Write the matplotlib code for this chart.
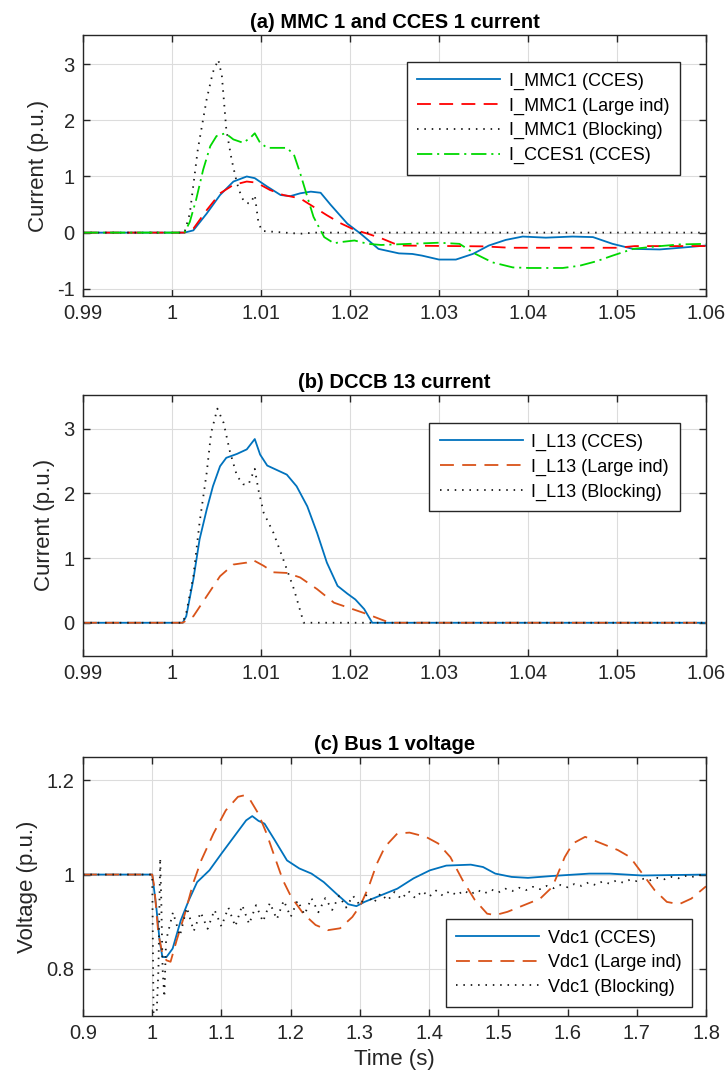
import matplotlib
matplotlib.use("Agg")
import matplotlib.pyplot as plt

plt.rcParams['font.family'] = ['Liberation Sans', 'DejaVu Sans']
plt.rcParams['lines.scale_dashes'] = False
plt.rcParams['axes.unicode_minus'] = False

# ---------------- data: panel (a) ----------------
t_mmc_cces = [0.99, 1.0014, 1.0024, 1.0039, 1.0054, 1.0069, 1.0084, 1.0093, 1.0107, 1.0122,
              1.0133, 1.0144, 1.0156, 1.0167, 1.0178, 1.0197, 1.0212, 1.0232, 1.0255, 1.027,
              1.0281, 1.030, 1.0319, 1.0338, 1.0356, 1.0375, 1.0394, 1.042, 1.045, 1.0473,
              1.0495, 1.0518, 1.0548, 1.0571, 1.06]
i_mmc_cces = [0, 0, 0.04, 0.34, 0.67, 0.91, 1.0, 0.97, 0.82, 0.67,
              0.65, 0.70, 0.73, 0.71, 0.50, 0.16, -0.02, -0.29, -0.37, -0.38,
              -0.41, -0.48, -0.48, -0.38, -0.23, -0.13, -0.07, -0.09, -0.07, -0.08,
              -0.20, -0.29, -0.30, -0.27, -0.23]

t_mmc_large = [0.99, 1.0014, 1.0024, 1.0039, 1.0054, 1.0069, 1.0084, 1.0095, 1.011, 1.0125,
               1.0144, 1.0159, 1.0174, 1.0189, 1.0205, 1.022, 1.0235, 1.0255, 1.035, 1.038,
               1.05, 1.052, 1.06]
i_mmc_large = [0, 0, 0.07, 0.4, 0.7, 0.85, 0.91, 0.89, 0.76, 0.67,
               0.61, 0.46, 0.31, 0.17, 0.05, -0.02, -0.1, -0.23, -0.245, -0.27,
               -0.27, -0.24, -0.24]

t_mmc_block = [0.99, 1.0014, 1.002, 1.0029, 1.0039, 1.0046, 1.0052, 1.0056, 1.0061, 1.0067,
               1.0073, 1.0078, 1.0082, 1.0088, 1.0093, 1.0097, 1.0101, 1.0144, 1.016, 1.06]
i_mmc_block = [0, 0, 0.34, 1.48, 2.38, 2.86, 3.08, 2.8, 1.84, 1.3,
               0.88, 0.64, 0.53, 0.52, 0.67, 0.19, 0.03, -0.02, 0.0, 0.0]

t_cces1 = [0.99, 1.0014, 1.002, 1.0027, 1.0035, 1.0043, 1.005, 1.006, 1.0069, 1.008,
           1.0088, 1.0093, 1.0099, 1.0107, 1.0118, 1.0129, 1.0137, 1.0144, 1.0152, 1.0159,
           1.0171, 1.0182, 1.0189, 1.0205, 1.022, 1.0235, 1.0251, 1.03, 1.0323, 1.0341,
           1.036, 1.0383, 1.0402, 1.0439, 1.0458, 1.0477, 1.0495, 1.0518, 1.0541, 1.0571, 1.06]
i_cces1 = [0, 0, 0.19, 0.58, 1.12, 1.54, 1.72, 1.77, 1.66, 1.6,
           1.69, 1.77, 1.6, 1.51, 1.51, 1.51, 1.39, 1.06, 0.64, 0.28,
           -0.08, -0.19, -0.17, -0.14, -0.2, -0.22, -0.21, -0.18, -0.2, -0.38,
           -0.53, -0.62, -0.63, -0.63, -0.59, -0.51, -0.41, -0.29, -0.25, -0.21, -0.2]

# ---------------- data: panel (b) ----------------
t_l13_cces = [0.99, 1.0012, 1.0016, 1.0024, 1.0031, 1.0039, 1.0046, 1.0054, 1.0061, 1.0073,
              1.0084, 1.0093, 1.0099, 1.0107, 1.0118, 1.0129, 1.014, 1.0152, 1.0163, 1.0174,
              1.0186, 1.0197, 1.0206, 1.0216, 1.0225, 1.06]
i_l13_cces = [0, 0, 0.1, 0.67, 1.29, 1.75, 2.11, 2.42, 2.55, 2.61,
              2.68, 2.84, 2.6, 2.43, 2.36, 2.29, 2.11, 1.8, 1.39, 0.93,
              0.57, 0.45, 0.36, 0.21, 0, 0]

t_l13_large = [0.99, 1.0012, 1.0024, 1.0039, 1.0054, 1.0069, 1.0084, 1.0091, 1.0103, 1.0114,
               1.0129, 1.0144, 1.0163, 1.0182, 1.0201, 1.022, 1.0235, 1.0245, 1.06]
i_l13_large = [0, 0, 0.1, 0.41, 0.72, 0.9, 0.93, 0.97, 0.88, 0.78,
               0.77, 0.7, 0.52, 0.31, 0.22, 0.13, 0.05, 0, 0]

t_l13_block = [0.99, 1.0012, 1.0016, 1.0024, 1.0031, 1.0039, 1.0044, 1.0051, 1.0058, 1.0065,
               1.0073, 1.008, 1.0086, 1.0093, 1.0097, 1.0103, 1.0114, 1.0125, 1.0137, 1.0148, 1.06]
i_l13_block = [0, 0, 0.15, 0.72, 1.55, 2.32, 2.94, 3.31, 3.09, 2.65,
               2.27, 2.14, 2.14, 2.38, 2.06, 1.7, 1.39, 0.98, 0.52, 0.0, 0]

# ---------------- data: panel (c) ----------------
t_vdc_cces = [0.9, 1.0, 1.0059, 1.0106, 1.0147, 1.0206, 1.0295, 1.0413, 1.053, 1.0649,
              1.0826, 1.1003, 1.118, 1.1357, 1.1445, 1.1534, 1.1622, 1.177, 1.1947, 1.2124,
              1.2301, 1.2478, 1.2655, 1.2832, 1.295, 1.3068, 1.3304, 1.354, 1.3776, 1.4012,
              1.4248, 1.4602, 1.4779, 1.4956, 1.5192, 1.5428, 1.5782, 1.6313, 1.661, 1.708,
              1.754, 1.8]
v_vdc_cces = [1.0, 1.0, 0.931, 0.861, 0.825, 0.825, 0.843, 0.903, 0.946, 0.984,
              1.009, 1.045, 1.08, 1.115, 1.124, 1.114, 1.108, 1.073, 1.03, 1.013,
              1.002, 0.984, 0.96, 0.937, 0.933, 0.942, 0.956, 0.970, 0.992, 1.009,
              1.019, 1.021, 1.016, 1.002, 0.995, 0.993, 0.997, 1.002, 1.002, 0.998,
              0.999, 1.0]

t_vdc_large = [0.9, 1.0, 1.003, 1.0088, 1.0147, 1.0206, 1.0265, 1.0354, 1.0472, 1.059,
               1.0708, 1.0885, 1.1062, 1.1239, 1.1327, 1.1416, 1.1534, 1.1652, 1.177, 1.1888,
               1.2006, 1.2183, 1.236, 1.2537, 1.2714, 1.2891, 1.3009, 1.3127, 1.3245, 1.3363,
               1.354, 1.3717, 1.3953, 1.413, 1.4307, 1.4484, 1.4661, 1.4838, 1.4956, 1.5133,
               1.5369, 1.5605, 1.5782, 1.5959, 1.6077, 1.6254, 1.649, 1.6726, 1.6903, 1.708,
               1.7257, 1.7434, 1.761, 1.7788, 1.8]
v_vdc_large = [1.0, 1.0, 0.974, 0.875, 0.832, 0.818, 0.815, 0.861, 0.917, 0.981,
               1.03, 1.087, 1.136, 1.165, 1.168, 1.158, 1.129, 1.087, 1.037, 0.988,
               0.953, 0.917, 0.893, 0.882, 0.886, 0.91, 0.935, 0.974, 1.023, 1.059,
               1.087, 1.089, 1.08, 1.066, 1.037, 0.988, 0.946, 0.917, 0.914, 0.921,
               0.935, 0.949, 0.974, 1.037, 1.066, 1.08, 1.066, 1.052, 1.037, 1.002,
               0.967, 0.942, 0.937, 0.949, 0.975]

t_vdc_block = [0.9, 1.0, 1.002, 1.006, 1.009, 1.0115, 1.013, 1.015, 1.0175, 1.02,
               1.03, 1.04, 1.05, 1.06, 1.07, 1.08, 1.09, 1.10, 1.11, 1.12,
               1.13, 1.14, 1.15, 1.16, 1.17, 1.18, 1.19, 1.20, 1.21, 1.22,
               1.23, 1.24, 1.25, 1.26, 1.27, 1.28, 1.29, 1.30, 1.31, 1.32,
               1.33, 1.34, 1.35, 1.36, 1.37, 1.38, 1.39, 1.40, 1.41, 1.42,
               1.43, 1.44, 1.45, 1.46, 1.47, 1.48, 1.49, 1.50, 1.51, 1.52,
               1.53, 1.54, 1.55, 1.56, 1.57, 1.58, 1.59, 1.60, 1.61, 1.62,
               1.63, 1.64, 1.65, 1.66, 1.67, 1.68, 1.69, 1.70, 1.71, 1.72,
               1.73, 1.74, 1.75, 1.76, 1.77, 1.78, 1.79, 1.80]
v_vdc_block = [1.0, 1.0, 0.69, 0.69, 0.80, 1.035, 0.95, 0.80, 0.74, 0.86,
               0.92, 0.87, 0.93, 0.88, 0.92, 0.885, 0.925, 0.89, 0.93, 0.89,
               0.935, 0.895, 0.935, 0.90, 0.94, 0.905, 0.945, 0.91, 0.945, 0.915,
               0.95, 0.92, 0.95, 0.925, 0.955, 0.93, 0.955, 0.935, 0.958, 0.94,
               0.96, 0.945, 0.963, 0.948, 0.965, 0.95, 0.965, 0.953, 0.966, 0.955,
               0.965, 0.956, 0.966, 0.958, 0.967, 0.96, 0.968, 0.962, 0.97, 0.965,
               0.972, 0.967, 0.974, 0.969, 0.976, 0.971, 0.978, 0.973, 0.98, 0.976,
               0.983, 0.978, 0.985, 0.981, 0.987, 0.983, 0.989, 0.986, 0.991, 0.988,
               0.993, 0.99, 0.995, 0.992, 0.997, 0.995, 0.999, 0.998]

# ---------------- ticks ----------------
xticks_ab = [0.99, 1.00, 1.01, 1.02, 1.03, 1.04, 1.05, 1.06]
xticklabels_ab = ['0.99', '1', '1.01', '1.02', '1.03', '1.04', '1.05', '1.06']
xticks_c = [0.9, 1.0, 1.1, 1.2, 1.3, 1.4, 1.5, 1.6, 1.7, 1.8]
xticklabels_c = ['0.9', '1', '1.1', '1.2', '1.3', '1.4', '1.5', '1.6', '1.7', '1.8']
yticks_a = [-1, 0, 1, 2, 3]
yticks_b = [0, 1, 2, 3]
yticks_c = [0.8, 1.0, 1.2]
yticklabels_c = ['0.8', '1', '1.2']

# ---------------- styles ----------------
BLUE = '#0072BD'
ORANGE = '#D95319'
RED = '#FF0000'
GREEN = '#00D800'
BLACK = '#1a1a1a'
AX = '#262626'
LW = 1.3
DASH = (0, (10, 6))
DOT = (0, (1.1, 4.2))
DASHDOT = (0, (11, 3.5, 1.5, 3.5))

TICK_FS = 14.5
LABEL_FS = 16
TITLE_FS = 14.5
LEG_FS = 13

fig = plt.figure(figsize=(7.28, 10.88), dpi=100)

def style_axes(ax):
    for s in ax.spines.values():
        s.set_color(AX)
        s.set_linewidth(1.0)
    ax.tick_params(direction='in', length=5, width=1.0, top=True, right=True,
                   labelsize=TICK_FS, colors=AX, pad=6)
    ax.grid(True, color='#dcdcdc', linewidth=0.8)
    ax.set_axisbelow(True)

def make_legend(ax, loc, anchor):
    leg = ax.legend(loc=loc, bbox_to_anchor=anchor, borderaxespad=0, fontsize=LEG_FS,
                    handlelength=4.6, handletextpad=0.45, labelspacing=0.42,
                    borderpad=0.6, fancybox=False, framealpha=1, edgecolor=AX)
    leg.get_frame().set_linewidth(1.0)
    return leg

# ---- panel (a)
ax1 = fig.add_axes([0.1140, 0.7279, 0.8558, 0.2399])
style_axes(ax1)
ax1.plot(t_mmc_cces, i_mmc_cces, color=BLUE, lw=LW, label='I_MMC1 (CCES)')
ax1.plot(t_mmc_large, i_mmc_large, color=RED, lw=LW, linestyle=DASH, label='I_MMC1 (Large ind)')
ax1.plot(t_mmc_block, i_mmc_block, color=BLACK, lw=LW, linestyle=DOT, label='I_MMC1 (Blocking)')
ax1.plot(t_cces1, i_cces1, color=GREEN, lw=LW, linestyle=DASHDOT, label='I_CCES1 (CCES)')
ax1.set_xlim(0.99, 1.06)
ax1.set_ylim(-1.13, 3.52)
ax1.set_xticks(xticks_ab)
ax1.set_xticklabels(xticklabels_ab)
ax1.set_yticks(yticks_a)
ax1.set_ylabel('Current (p.u.)', fontsize=LABEL_FS, color=AX, labelpad=6)
ax1.set_title('(a) MMC 1 and CCES 1 current', fontsize=TITLE_FS, fontweight='bold', pad=5)
make_legend(ax1, 'upper right', (0.958, 0.897))

# ---- panel (b)
ax2 = fig.add_axes([0.1140, 0.3973, 0.8558, 0.2396])
style_axes(ax2)
ax2.plot(t_l13_cces, i_l13_cces, color=BLUE, lw=LW, label='I_L13 (CCES)')
ax2.plot(t_l13_large, i_l13_large, color=ORANGE, lw=LW, linestyle=DASH, label='I_L13 (Large ind)')
ax2.plot(t_l13_block, i_l13_block, color=BLACK, lw=LW, linestyle=DOT, label='I_L13 (Blocking)')
ax2.set_xlim(0.99, 1.06)
ax2.set_ylim(-0.51, 3.52)
ax2.set_xticks(xticks_ab)
ax2.set_xticklabels(xticklabels_ab)
ax2.set_yticks(yticks_b)
ax2.set_ylabel('Current (p.u.)', fontsize=LABEL_FS, color=AX, labelpad=6)
ax2.set_title('(b) DCCB 13 current', fontsize=TITLE_FS, fontweight='bold', pad=5)
make_legend(ax2, 'upper right', (0.958, 0.893))

# ---- panel (c)
ax3 = fig.add_axes([0.1140, 0.0662, 0.8558, 0.2383])
style_axes(ax3)
ax3.plot(t_vdc_cces, v_vdc_cces, color=BLUE, lw=LW, label='Vdc1 (CCES)')
ax3.plot(t_vdc_large, v_vdc_large, color=ORANGE, lw=LW, linestyle=DASH, label='Vdc1 (Large ind)')
ax3.plot(t_vdc_block, v_vdc_block, color=BLACK, lw=LW, linestyle=DOT, label='Vdc1 (Blocking)')
ax3.set_xlim(0.9, 1.8)
ax3.set_ylim(0.70, 1.25)
ax3.set_xticks(xticks_c)
ax3.set_xticklabels(xticklabels_c)
ax3.set_yticks(yticks_c)
ax3.set_yticklabels(yticklabels_c)
ax3.set_ylabel('Voltage (p.u.)', fontsize=LABEL_FS, color=AX, labelpad=6)
ax3.set_xlabel('Time (s)', fontsize=LABEL_FS, color=AX, labelpad=4)
ax3.set_title('(c) Bus 1 voltage', fontsize=TITLE_FS, fontweight='bold', pad=5)
make_legend(ax3, 'lower right', (0.9775, 0.036))

fig.savefig('out.png', dpi=100)
